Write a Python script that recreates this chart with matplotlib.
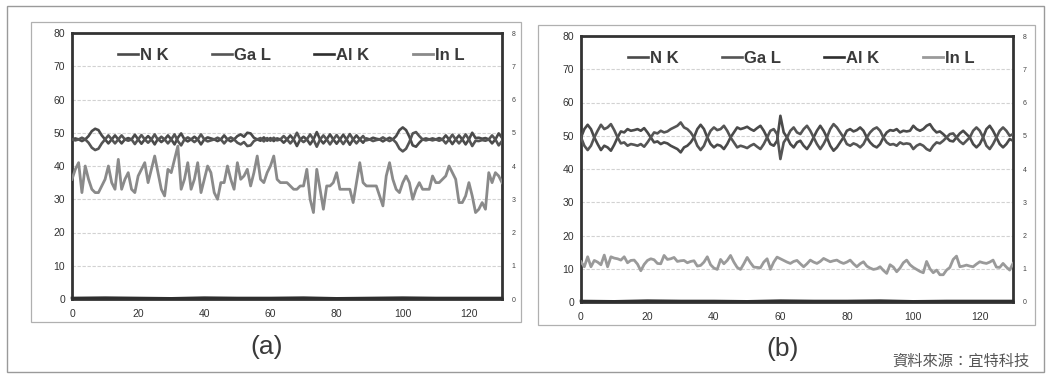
import matplotlib
matplotlib.use("Agg")
import matplotlib.pyplot as plt
from matplotlib.patches import Rectangle

plt.rcParams['font.family'] = ['Liberation Sans', 'DejaVu Sans']

# ---------------- data ----------------
x = list(range(131))

nk_a = [48.0, 48.3, 48.0, 47.5, 48.0, 49.0, 50.5, 51.2, 50.8, 49.2,
        48.0, 46.8, 48.0, 49.2, 48.0, 46.8, 48.0, 48.4, 48.0, 49.4,
        48.0, 46.7, 48.0, 49.0, 48.0, 46.5, 48.2, 47.2, 48.0, 49.2,
        48.0, 46.5, 48.5, 49.8, 48.0, 47.4, 48.0, 48.8, 48.0, 46.5,
        48.0, 48.6, 48.3, 48.0, 47.5, 48.0, 49.2, 48.0, 47.4, 48.0,
        49.0, 49.5, 48.8, 50.0, 49.8, 48.5, 48.0, 47.6, 48.6, 47.6,
        48.4, 47.5, 48.3, 48.0, 47.0, 48.0, 49.2, 48.0, 46.0, 48.0,
        48.8, 48.0, 46.5, 48.0, 50.2, 48.0, 46.8, 48.0, 49.5, 48.0,
        46.7, 48.0, 49.4, 48.0, 46.4, 48.0, 49.2, 48.0, 47.0, 48.3,
        48.0, 48.5, 48.2, 48.0, 47.4, 48.0, 48.5, 48.0, 49.0, 50.8,
        51.6, 50.8, 48.8, 46.2, 45.8, 47.0, 48.0, 48.3, 48.0, 48.3,
        48.0, 48.4, 48.0, 49.2, 48.0, 46.6, 48.0, 49.2, 48.0, 46.5,
        48.0, 50.0, 48.4, 48.5, 48.2, 48.4, 48.0, 46.8, 48.0, 49.8,
        48.5]

gal_a = [48.0, 47.7, 48.0, 48.5, 48.0, 47.0, 45.5, 44.8, 45.2, 46.8,
         48.0, 49.2, 48.0, 46.8, 48.0, 49.2, 48.0, 47.6, 48.0, 46.6,
         48.0, 49.3, 48.0, 47.0, 48.0, 49.5, 47.8, 48.8, 48.0, 46.8,
         48.0, 49.5, 47.5, 46.2, 48.0, 48.6, 48.0, 47.2, 48.0, 49.5,
         48.0, 47.4, 47.7, 48.0, 48.5, 48.0, 46.8, 48.0, 48.6, 48.0,
         47.0, 46.5, 47.2, 46.0, 46.2, 47.5, 48.0, 48.4, 47.4, 48.4,
         47.6, 48.5, 47.7, 48.0, 49.0, 48.0, 46.8, 48.0, 50.0, 48.0,
         47.2, 48.0, 49.5, 48.0, 45.8, 48.0, 49.2, 48.0, 46.5, 48.0,
         49.3, 48.0, 46.6, 48.0, 49.6, 48.0, 46.8, 48.0, 49.0, 47.7,
         48.0, 47.5, 47.8, 48.0, 48.6, 48.0, 47.5, 48.0, 47.0, 45.2,
         44.4, 45.2, 47.2, 49.8, 50.2, 49.0, 48.0, 47.7, 48.0, 47.7,
         48.0, 47.6, 48.0, 46.8, 48.0, 49.4, 48.0, 46.8, 48.0, 49.5,
         48.0, 46.0, 47.6, 47.5, 47.8, 47.6, 48.0, 49.2, 48.0, 46.2,
         47.5]

inl_a = [36, 39, 41, 32, 40, 36, 33, 32, 32, 34,
         36, 40, 35, 33, 42, 33, 36, 38, 33, 32,
         37, 39, 41, 35, 39, 43, 38, 33, 31, 39,
         38, 42, 46, 33, 36, 41, 33, 36, 41, 32,
         36, 40, 38, 32, 30, 35, 35, 40, 36, 33,
         41, 36, 37, 39, 34, 38, 43, 36, 35, 38,
         40, 43, 36, 35, 35, 35, 34, 33, 33, 34,
         34, 39, 30, 26, 39, 33, 27, 34, 34, 35,
         38, 33, 33, 33, 33, 29, 35, 41, 35, 34,
         34, 34, 34, 31, 28, 37, 41, 36, 33, 32,
         35, 37, 35, 30, 33, 35, 33, 33, 33, 37,
         35, 35, 36, 37, 40, 38, 36, 29, 29, 31,
         35, 31, 26, 27, 29, 27, 38, 35, 38, 37,
         35]

nk_b = [49.5, 52.0, 53.3, 52.0, 49.5, 47.5, 45.7, 47.0, 46.5, 45.5,
        47.3, 49.5, 51.3, 51.0, 52.0, 51.5, 51.7, 52.0, 51.5, 52.3,
        51.0, 49.5, 48.0, 48.3, 47.5, 48.0, 47.7, 47.0, 46.5, 46.0,
        45.0, 46.5, 47.0, 48.0, 49.5, 52.0, 53.3, 52.0, 49.5, 47.5,
        46.5, 47.3, 47.0, 46.0, 47.5, 49.5, 51.0, 52.5, 52.0, 52.3,
        52.7, 52.0, 51.5, 52.3, 53.0, 51.5, 49.5, 47.5, 47.0, 48.5,
        56.0, 51.0, 49.5, 47.5, 46.5, 48.0, 48.5, 47.0, 46.0, 47.5,
        49.5, 51.5, 53.0, 51.5, 49.5, 47.0, 45.5, 46.5, 48.0, 49.5,
        51.5, 52.0, 51.3, 51.7, 52.5, 51.5, 49.5, 48.0, 47.0, 46.5,
        47.5, 49.5, 51.0, 51.7, 51.5, 52.0, 51.0, 51.5, 51.3, 51.5,
        53.0, 52.0, 51.5, 52.0, 53.0, 53.5, 52.0, 51.0, 51.3, 50.5,
        49.5, 48.5, 48.3, 49.5, 50.7, 51.5, 50.5, 49.5, 47.5, 46.5,
        47.5, 49.5, 52.0, 53.0, 51.5, 49.5, 47.5, 46.5, 47.5, 49.0,
        48.5]

gal_b = [49.5, 47.0, 45.7, 47.0, 49.5, 51.5, 53.3, 52.0, 52.5, 53.5,
         51.7, 49.5, 47.7, 48.0, 47.0, 47.5, 47.3, 47.0, 47.5, 46.7,
         48.0, 49.5, 51.0, 50.7, 51.5, 51.0, 51.3, 52.0, 52.5, 53.0,
         54.0, 52.5, 52.0, 51.0, 49.5, 47.0, 45.7, 47.0, 49.5, 51.5,
         52.5, 51.7, 52.0, 53.0, 51.5, 49.5, 48.0, 46.5, 47.0, 46.7,
         46.3, 47.0, 47.5, 46.7, 46.0, 47.5, 49.5, 51.5, 52.0, 50.5,
         43.0, 48.0, 49.5, 51.5, 52.5, 51.0, 50.5, 52.0, 53.0, 51.5,
         49.5, 47.5, 46.0, 47.5, 49.5, 52.0, 53.5, 52.5, 51.0, 49.5,
         47.5, 47.0, 47.7, 47.3, 46.5, 47.5, 49.5, 51.0, 52.0, 52.5,
         51.5, 49.5, 48.0, 47.3, 47.5, 47.0, 48.0, 47.5, 47.7, 47.5,
         46.0, 47.0, 47.5, 47.0, 46.0, 45.5, 47.0, 48.0, 47.7, 48.5,
         49.5, 50.5, 50.7, 49.5, 48.3, 47.5, 48.5, 49.5, 51.5, 52.5,
         51.5, 49.5, 47.0, 46.0, 47.5, 49.5, 51.5, 52.5, 51.5, 50.0,
         50.5]

inl_b = [12.1, 10.6, 13.6, 10.6, 12.5, 12.0, 11.2, 14.1, 10.6, 13.6,
         13.2, 13.0, 12.6, 13.6, 11.8, 12.5, 12.6, 11.4, 9.4, 11.3,
         12.5, 13.0, 12.7, 11.6, 11.5, 14.0, 12.8, 13.0, 13.4, 12.2,
         12.4, 12.5, 11.8, 12.2, 12.4, 10.8, 11.0, 12.0, 13.6, 11.2,
         10.2, 9.8, 12.8, 11.5, 12.5, 14.0, 12.0, 10.4, 9.8, 11.5,
         13.4, 11.8, 10.5, 10.4, 10.3, 12.0, 13.0, 9.8, 12.0, 13.5,
         13.0, 12.5, 12.0, 11.6, 12.2, 12.5, 11.5, 10.6, 11.5, 12.6,
         12.0, 11.6, 12.2, 13.1, 12.6, 12.1, 12.4, 12.6, 12.0, 11.6,
         12.0, 12.6, 11.5, 10.6, 11.5, 12.1, 10.8, 10.2, 9.8, 10.0,
         10.6, 9.5, 8.6, 11.2, 10.5, 9.1, 10.2, 11.8, 12.6, 11.2,
         10.4, 9.8, 9.2, 8.8, 12.2, 10.0, 8.8, 9.6, 8.2, 8.2,
         9.6, 10.4, 12.8, 13.8, 10.6, 10.8, 11.1, 10.8, 10.6, 11.4,
         12.1, 11.8, 11.6, 12.0, 12.6, 10.5, 10.4, 11.6, 10.5, 9.6,
         11.6]

alk_x = [0, 10, 20, 30, 40, 50, 60, 70, 80, 90, 100, 110, 120, 130]
alk_a = [0.3, 0.4, 0.3, 0.2, 0.4, 0.3, 0.3, 0.4, 0.2, 0.3, 0.4, 0.3, 0.3, 0.3]
alk_b = [0.3, 0.2, 0.4, 0.3, 0.3, 0.2, 0.4, 0.3, 0.3, 0.4, 0.2, 0.3, 0.3, 0.3]

series_names = ["N K", "Ga L", "Al K", "In L"]
y_ticks = [0, 10, 20, 30, 40, 50, 60, 70, 80]
x_ticks = [0, 20, 40, 60, 80, 100, 120]
y2_ticks = [0, 1, 2, 3, 4, 5, 6, 7, 8]
panel_labels = ["(a)", "(b)"]
source_text = "資料來源：宜特科技"

# ---------------- layout ----------------
W, H = 1049, 376
fig = plt.figure(figsize=(W / 100, H / 100), dpi=100)


def fx(px):
    return px / W


def fy(py):
    return 1 - py / H


def frame(x0, y0, x1, y1, color, lw):
    fig.patches.append(Rectangle((fx(x0), fy(y1)), fx(x1) - fx(x0), fy(y0) - fy(y1),
                                 transform=fig.transFigure, fill=False,
                                 edgecolor=color, linewidth=lw, zorder=0))


frame(7, 6, 1044, 372, '#9a9a9a', 1.0)
frame(31, 22, 521, 322, '#b0b0b0', 0.9)
frame(538, 25, 1035, 325, '#b0b0b0', 0.9)

c_nk = '#4a4a4a'
c_ga = '#555555'
c_al = '#2e2e2e'


def panel(px0, py0, px1, py1, nk, gal, alk, inl, label, lab_x, lab_y, in_color):
    ax = fig.add_axes([fx(px0), fy(py1), fx(px1) - fx(px0), fy(py0) - fy(py1)])
    ax.set_xlim(0, 130)
    ax.set_ylim(0, 80)
    ax.set_yticks(y_ticks)
    ax.set_xticks(x_ticks)
    for v in y_ticks[1:-1]:
        ax.axhline(v, color='#d2d2d2', lw=0.8, ls=(0, (3, 1.5)), zorder=1)
    ax.tick_params(length=0, labelsize=7.5, colors='#333333')
    ax.tick_params(axis='y', pad=5)
    ax.tick_params(axis='x', pad=7)
    for s in ax.spines.values():
        s.set_linewidth(2.0)
        s.set_color('#333333')
    l1, = ax.plot(x, nk, color=c_nk, lw=1.9, label=series_names[0], zorder=4)
    l2, = ax.plot(x, gal, color=c_ga, lw=1.9, label=series_names[1], zorder=4)
    l3, = ax.plot(alk_x, alk, color=c_al, lw=1.9, label=series_names[2], zorder=3, clip_on=False)
    l4, = ax.plot(x, inl, color=in_color, lw=2.0, label=series_names[3], zorder=3)
    leg = ax.legend(handles=[l1, l2, l3, l4], ncol=4, loc='center',
                    bbox_to_anchor=(0.51, 0.917), frameon=False,
                    prop={'weight': 'bold', 'size': 12},
                    handlelength=1.2, handletextpad=0.12, columnspacing=2.6,
                    borderaxespad=0)
    for t in leg.get_texts():
        t.set_color('#3a3a3a')
    ax2 = ax.twinx()
    ax2.set_ylim(0, 8)
    ax2.set_yticks(y2_ticks)
    ax2.tick_params(length=0, labelsize=5, colors='#444444', pad=7)
    for s in ax2.spines.values():
        s.set_visible(False)
    fig.text(fx(lab_x), fy(lab_y), label, ha='center', va='center',
             fontsize=19, color='#3a3a3a', family=['Liberation Sans', 'DejaVu Sans'])
    return ax


panel(72, 33, 502, 299, nk_a, gal_a, alk_a, inl_a, panel_labels[0], 267, 347, '#8a8a8a')
panel(581, 36, 1013, 302, nk_b, gal_b, alk_b, inl_b, panel_labels[1], 783, 349, '#9a9a9a')

fig.text(fx(1030), fy(361), source_text, ha='right', va='center', fontsize=11,
         color='#555555', family=['Noto Sans CJK TC', 'DejaVu Sans'])

fig.savefig('out.png', dpi=100, facecolor='white')
